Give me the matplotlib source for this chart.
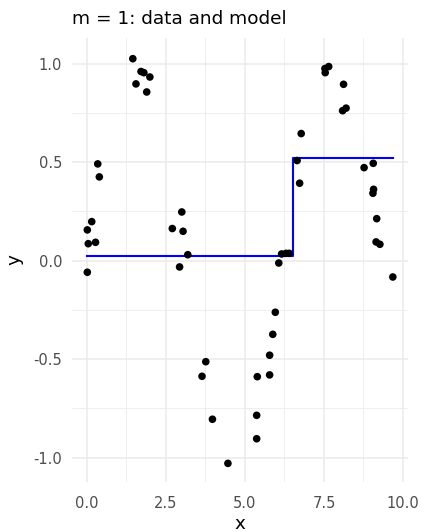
import matplotlib
matplotlib.use("Agg")
import matplotlib.pyplot as plt
import numpy as np

plt.rcParams['font.family'] = ['DejaVu Sans']

# Data points
x_data = [0.01, 0.01, 0.04, 0.15, 0.27, 0.34, 0.39, 1.45, 1.55, 1.71, 1.80, 1.99, 1.89,
          2.70, 3.00, 3.04, 3.19, 2.93, 3.76, 3.64, 3.97, 4.46, 5.37, 5.37, 5.39, 5.78,
          5.78, 5.88, 5.96, 6.07, 9.68, 6.16, 6.30, 6.40, 6.65, 6.73, 6.78, 7.53, 7.65,
          7.54, 8.12, 8.09, 8.20, 8.77, 9.06, 9.07, 9.05, 9.17, 9.15, 9.27]
y_data = [-0.059, 0.156, 0.086, 0.198, 0.093, 0.491, 0.425, 1.025, 0.897, 0.960, 0.954,
          0.932, 0.856, 0.163, 0.247, 0.149, 0.030, -0.032, -0.513, -0.587, -0.805,
          -1.029, -0.904, -0.785, -0.589, -0.580, -0.480, -0.374, -0.262, -0.012, -0.083,
          0.034, 0.037, 0.037, 0.508, 0.393, 0.645, 0.975, 0.985, 0.954, 0.895, 0.761,
          0.774, 0.472, 0.494, 0.362, 0.342, 0.213, 0.095, 0.083]

# Step model
model_x = [0.01, 6.51, 9.68]
model_y = [0.022, 0.521, 0.521]

x_ticks = [0.0, 2.5, 5.0, 7.5, 10.0]
y_ticks = [-1.0, -0.5, 0.0, 0.5, 1.0]

W, H = 424, 532
fig = plt.figure(figsize=(W / 100, H / 100), dpi=100)
ax = fig.add_axes([72 / W, 1 - 481.7 / H, (408 - 72) / W, (481.7 - 38) / H])

ax.set_xlim(-0.475, 10.16)
ax.set_ylim(-1.122, 1.13)

for s in ax.spines.values():
    s.set_visible(False)

ax.set_xticks(x_ticks)
ax.set_yticks(y_ticks)
ax.set_xticks([1.25, 3.75, 6.25, 8.75], minor=True)
ax.set_yticks([-0.75, -0.25, 0.25, 0.75], minor=True)
ax.set_xticklabels([f"{v:.1f}" for v in x_ticks])
ax.set_yticklabels([f"{v:.1f}" for v in y_ticks])
ax.tick_params(which='both', length=0)
ax.tick_params(axis='x', which='major', labelsize=10.5, labelcolor='#4D4D4D', pad=10)
ax.tick_params(axis='y', which='major', labelsize=10.5, labelcolor='#4D4D4D', pad=7)
ax.grid(True, which='major', color='#EBEBEB', linewidth=1.1)
ax.grid(True, which='minor', color='#EBEBEB', linewidth=0.6)
ax.set_axisbelow(True)

ax.step(model_x, model_y, where='post', color='#0000FF', linewidth=1.5, zorder=2)
ax.scatter(x_data, y_data, s=30, color='black', edgecolors='none', zorder=3)

ax.set_xlabel('x', fontsize=13.2, labelpad=3)
ax.set_ylabel('y', fontsize=13.2, labelpad=7)
fig.text(72.5 / W, 1 - 24 / H, 'm = 1: data and model', fontsize=13.3,
         ha='left', va='baseline')

fig.savefig('out.png', dpi=100, facecolor='white')
